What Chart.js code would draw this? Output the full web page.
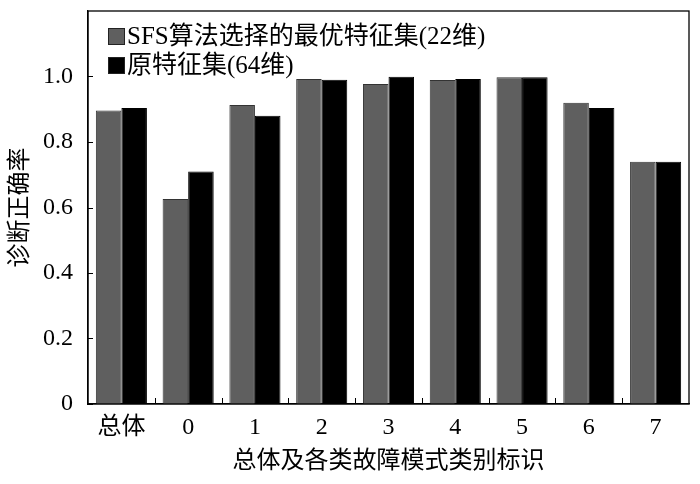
<!DOCTYPE html>
<html>
<head>
<meta charset="utf-8">
<script src="https://cdn.jsdelivr.net/npm/chart.js@4/dist/chart.umd.min.js"></script>
<style>
  html, body { margin: 0; padding: 0; background: #fff; }
  #wrap { width: 700px; height: 484px; }
</style>
</head>
<body>
<div id="wrap"><canvas id="c" width="700" height="484"></canvas></div>
<script>
const categories = ['总体', '0', '1', '2', '3', '4', '5', '6', '7'];
const sfsValues = [0.896, 0.626, 0.913, 0.992, 0.977, 0.989, 0.998, 0.920, 0.740];
const originalValues = [0.904, 0.710, 0.880, 0.990, 0.999, 0.992, 0.998, 0.904, 0.740];
const seriesLabels = ['SFS算法选择的最优特征集(22维)', '原特征集(64维)'];
const yTickValues = [0, 0.2, 0.4, 0.6, 0.8, 1.0];
const yMax = 1.2;
const xTitle = '总体及各类故障模式类别标识';
const yTitle = '诊断正确率';

const FONT = '"Liberation Serif", "Times New Roman", "Noto Sans CJK SC", serif';

const framePlugin = {
  id: 'frame',
  afterDraw(chart) {
    const { ctx, chartArea: a, scales } = chart;
    ctx.save();
    ctx.strokeStyle = '#000';
    ctx.lineWidth = 1.3;
    ctx.strokeRect(a.left, a.top, a.right - a.left, a.bottom - a.top);
    ctx.lineWidth = 1;
    yTickValues.forEach(v => {
      const y = Math.round(scales.y.getPixelForValue(v)) + 0.5;
      ctx.beginPath();
      ctx.moveTo(a.left, y);
      ctx.lineTo(a.left + 5, y);
      ctx.stroke();
    });
    for (let i = 0; i < categories.length - 1; i++) {
      const x = Math.round((scales.x.getPixelForValue(i) + scales.x.getPixelForValue(i + 1)) / 2) + 0.5;
      ctx.beginPath();
      ctx.moveTo(x, a.bottom);
      ctx.lineTo(x, a.bottom - 6);
      ctx.stroke();
    }
    const sets = chart.data.datasets;
    const rows = [36, 65];
    ctx.font = '25px ' + FONT;
    ctx.textBaseline = 'middle';
    ctx.textAlign = 'left';
    sets.forEach((ds, i) => {
      const cy = rows[i];
      ctx.fillStyle = ds.backgroundColor;
      ctx.fillRect(108, cy - 8, 17, 17);
      ctx.strokeStyle = '#222';
      ctx.strokeRect(108.5, cy - 7.5, 16, 16);
      ctx.fillStyle = '#000';
      ctx.fillText(ds.label, 127, cy + 1);
    });
    ctx.restore();
  }
};

new Chart(document.getElementById('c'), {
  type: 'bar',
  data: {
    labels: categories,
    datasets: [
      { label: seriesLabels[0], data: sfsValues, backgroundColor: '#5f5f5f', borderColor: '#333', borderWidth: 1, borderSkipped: 'bottom' },
      { label: seriesLabels[1], data: originalValues, backgroundColor: '#000000', borderColor: '#000', borderWidth: 1, borderSkipped: 'bottom' }
    ]
  },
  options: {
    responsive: false,
    animation: false,
    devicePixelRatio: 1,
    layout: { padding: { top: 11, right: 11, left: 0, bottom: 0 } },
    plugins: { legend: { display: false }, tooltip: { enabled: false } },
    datasets: { bar: { categoryPercentage: 0.765, barPercentage: 1.0 } },
    scales: {
      x: {
        grid: { display: false, drawTicks: false },
        border: { display: true, color: '#000', width: 1.3 },
        ticks: { color: '#000', font: { family: FONT, size: 24 }, padding: 9, maxRotation: 0 },
        title: { display: true, text: xTitle, color: '#000', font: { family: FONT, size: 24 }, padding: { top: 0, bottom: 8 } },
        afterFit(scale) { scale.height = 80; scale.paddingLeft = 0; scale.paddingRight = 0; }
      },
      y: {
        min: 0, max: yMax,
        grid: { display: false, drawTicks: false },
        border: { display: true, color: '#000', width: 1.3 },
        ticks: {
          stepSize: 0.2,
          color: '#000',
          font: { family: FONT, size: 24 },
          padding: 15,
          callback(v) {
            const r = Math.round(v * 10) / 10;
            if (!yTickValues.some(t => Math.abs(t - r) < 1e-6)) return '';
            return r === 0 ? '0' : r.toFixed(1);
          }
        },
        title: { display: true, text: yTitle, color: '#000', font: { family: FONT, size: 24 }, padding: { top: 6, bottom: 0 } },
        afterFit(scale) { scale.width = 88; scale.paddingTop = 0; scale.paddingBottom = 0; }
      }
    }
  },
  plugins: [framePlugin]
});
</script>
</body>
</html>
